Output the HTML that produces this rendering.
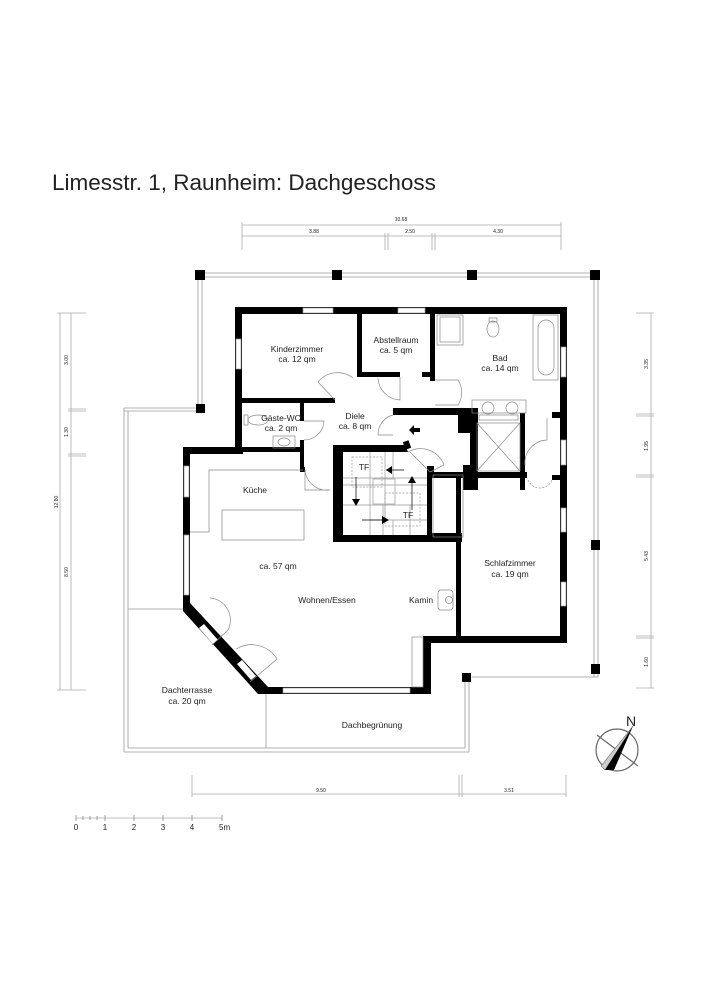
<!DOCTYPE html>
<html><head><meta charset="utf-8"><style>
html,body{margin:0;padding:0;background:#fff;}
svg{display:block;}
text{font-family:"Liberation Sans",Arial,sans-serif;fill:#222;}
</style></head><body>
<svg width="707" height="1000" viewBox="0 0 707 1000" xmlns="http://www.w3.org/2000/svg">
<text x="52" y="190" font-size="22.5">Limesstr. 1, Raunheim: Dachgeschoss</text>

<!-- dimension lines -->
<g stroke="#aaa" stroke-width="0.8" fill="none">
<line x1="242" y1="225" x2="561" y2="225"/>
<line x1="242" y1="236" x2="561" y2="236"/>
<line x1="242" y1="222" x2="242" y2="250"/><line x1="561" y1="222" x2="561" y2="250"/>
<line x1="385" y1="233" x2="385" y2="250"/><line x1="388" y1="233" x2="388" y2="250"/>
<line x1="432" y1="233" x2="432" y2="250"/><line x1="435" y1="233" x2="435" y2="250"/>
<line x1="60" y1="313" x2="60" y2="690"/><line x1="71" y1="313" x2="71" y2="690"/>
<line x1="57" y1="313" x2="86" y2="313"/><line x1="57" y1="690" x2="86" y2="690"/>
<line x1="68" y1="409" x2="86" y2="409"/><line x1="68" y1="411" x2="86" y2="411"/>
<line x1="68" y1="454" x2="86" y2="454"/><line x1="68" y1="456" x2="86" y2="456"/>
<line x1="651" y1="313" x2="651" y2="688"/>
<line x1="636" y1="313" x2="654" y2="313"/><line x1="636" y1="688" x2="654" y2="688"/>
<line x1="636" y1="414" x2="654" y2="414"/><line x1="636" y1="416" x2="654" y2="416"/>
<line x1="636" y1="475" x2="654" y2="475"/><line x1="636" y1="477" x2="654" y2="477"/>
<line x1="636" y1="636" x2="654" y2="636"/><line x1="636" y1="638" x2="654" y2="638"/>
<line x1="192" y1="794" x2="566" y2="794"/>
<line x1="192" y1="775" x2="192" y2="797"/><line x1="566" y1="775" x2="566" y2="797"/>
<line x1="459" y1="775" x2="459" y2="797"/><line x1="462" y1="775" x2="462" y2="797"/>
<line x1="76" y1="818" x2="222" y2="818"/>
</g>
<g font-size="5" fill="#555">
<text x="401" y="221" text-anchor="middle">10.68</text>
<text x="314" y="233" text-anchor="middle">3.88</text>
<text x="410" y="233" text-anchor="middle">2.50</text>
<text x="498" y="233" text-anchor="middle">4.30</text>
<text x="321" y="792" text-anchor="middle">9.50</text>
<text x="509" y="792" text-anchor="middle">3.51</text>
<text transform="translate(58,502) rotate(-90)" text-anchor="middle">12.80</text>
<text transform="translate(68,360) rotate(-90)" text-anchor="middle">3.00</text>
<text transform="translate(68,432) rotate(-90)" text-anchor="middle">1.30</text>
<text transform="translate(68,572) rotate(-90)" text-anchor="middle">8.50</text>
<text transform="translate(648,364) rotate(-90)" text-anchor="middle">3.35</text>
<text transform="translate(648,446) rotate(-90)" text-anchor="middle">1.95</text>
<text transform="translate(648,556) rotate(-90)" text-anchor="middle">5.43</text>
<text transform="translate(648,662) rotate(-90)" text-anchor="middle">1.60</text>
</g>
<g stroke="#888" stroke-width="0.8">
<line x1="76" y1="815" x2="76" y2="821"/><line x1="105" y1="815" x2="105" y2="821"/>
<line x1="134" y1="815" x2="134" y2="821"/><line x1="163" y1="815" x2="163" y2="821"/>
<line x1="192" y1="815" x2="192" y2="821"/><line x1="222" y1="815" x2="222" y2="821"/>
<line x1="83" y1="816" x2="83" y2="820"/><line x1="90" y1="816" x2="90" y2="820"/><line x1="97" y1="816" x2="97" y2="820"/>
</g>
<g font-size="8">
<text x="76" y="830" text-anchor="middle">0</text><text x="105" y="830" text-anchor="middle">1</text>
<text x="134" y="830" text-anchor="middle">2</text><text x="163" y="830" text-anchor="middle">3</text>
<text x="192" y="830" text-anchor="middle">4</text><text x="219" y="830">5m</text>
</g>

<!-- balcony railings -->
<g stroke="#999" stroke-width="0.8" fill="none">
<line x1="198" y1="273" x2="598" y2="273"/><line x1="198" y1="277" x2="598" y2="277"/>
<line x1="198" y1="273" x2="198" y2="408"/><line x1="202" y1="277" x2="202" y2="408"/>
<line x1="594" y1="273" x2="594" y2="677"/><line x1="598" y1="273" x2="598" y2="677"/>
<line x1="472" y1="677" x2="598" y2="677"/>
<line x1="465" y1="677" x2="465" y2="748"/><line x1="469" y1="677" x2="469" y2="752"/>
<line x1="124" y1="408" x2="198" y2="408"/><line x1="124" y1="411" x2="198" y2="411"/>
<line x1="124" y1="408" x2="124" y2="752"/><line x1="128" y1="411" x2="128" y2="748"/>
<line x1="124" y1="752" x2="469" y2="752"/><line x1="128" y1="748" x2="465" y2="748"/>
<line x1="128" y1="609" x2="186" y2="609"/>
<line x1="266" y1="694" x2="266" y2="748"/>
</g>
<g fill="#000">
<rect x="195" y="270" width="10" height="10"/><rect x="332" y="270" width="10" height="10"/>
<rect x="467" y="270" width="10" height="10"/><rect x="590" y="270" width="10" height="10"/>
<rect x="196" y="404" width="9" height="9"/>
<rect x="591" y="540" width="9" height="10"/><rect x="591" y="664" width="9" height="10"/>
<rect x="462" y="673" width="9" height="9"/>
</g>

<!-- walls -->
<g fill="#000">
<rect x="235" y="307" width="332" height="7"/>
<rect x="235" y="307" width="7" height="145"/>
<rect x="560" y="307" width="7" height="336"/>
<rect x="423" y="636" width="144" height="7"/>
<rect x="423" y="636" width="8" height="58"/>
<rect x="265" y="687" width="166" height="7"/>
<rect x="183" y="447" width="7" height="162"/>
<rect x="183" y="447" width="60" height="7"/>
<rect x="241" y="447" width="60" height="5"/>
<polygon points="183,605 190,603 268,687 265,694 258,694 183,611"/>
<rect x="241" y="398" width="94" height="5"/>
<rect x="357" y="313" width="5" height="64"/>
<rect x="357" y="372" width="43" height="5"/>
<rect x="422" y="372" width="13" height="5"/>
<rect x="430" y="313" width="5" height="68"/>
<rect x="300" y="403" width="4" height="18"/>
<rect x="300" y="440" width="4" height="32"/>
<rect x="300" y="467" width="5" height="5"/>
<rect x="393" y="408" width="82" height="7"/>
<rect x="458" y="408" width="17" height="25"/>
<rect x="470" y="408" width="8" height="70"/>
<rect x="520" y="413" width="5" height="77"/>
<rect x="552" y="412" width="15" height="6"/>
<rect x="430" y="472" width="97" height="6"/>
<rect x="463" y="465" width="15" height="25"/>
<rect x="552" y="475" width="15" height="5"/>
<rect x="456" y="478" width="5" height="162"/>
<!-- stair box -->
<polygon points="333,445 405,445 408,452 343,452 343,535 427,535 427,470 432,470 432,542 333,542"/>
<rect x="430" y="533" width="32" height="9"/>
<rect x="404" y="441" width="6" height="8" transform="rotate(-20 407 445)"/>
<rect x="427" y="466" width="7" height="7"/>
</g>
<!-- windows -->
<g fill="#fff" stroke="#999" stroke-width="0.7">
<rect x="303" y="308" width="30" height="5"/><rect x="398" y="308" width="27" height="5"/>
<rect x="236" y="339" width="5" height="30"/>
<rect x="561" y="347" width="5" height="30"/><rect x="561" y="440" width="5" height="25"/>
<rect x="561" y="508" width="5" height="24"/><rect x="561" y="582" width="5" height="24"/>
<rect x="184" y="466" width="5" height="31"/><rect x="184" y="535" width="5" height="60"/>
<rect x="283" y="688" width="127" height="5"/>
</g>
<g fill="#fff" stroke="none">
<polygon points="199,628 213,644 218,640 204,624"/>
<polygon points="237,664 251,680 256,676 242,660"/>
</g>
<g stroke="#888" stroke-width="0.7" fill="none">
<path d="M212,645 L228,630 A22,22 0 0 0 210,598"/>
<path d="M250,682 L277,659 A30,30 0 0 0 236,649"/>
<path d="M335,400 L318,382 A25,25 0 0 1 353,378"/>
<path d="M400,377 L400,400 A23,23 0 0 1 378,378"/>
<path d="M435,380 L458,380 A23,23 0 0 1 458,405 L435,405"/>
<path d="M304,421 L324,421 A20,20 0 0 1 304,440"/>
<path d="M305,470 L305,490 L330,490 M305,470 A22,22 0 0 0 330,490"/>
<path d="M393,415 A20,20 0 0 0 378,435 L393,435"/>
<path d="M410,452 L430,472 M408,452 A25,25 0 0 1 444,465 L430,472"/>
<path d="M525,465 A23,23 0 0 1 547,440 L547,418"/>
<path d="M528,480 A13,13 0 0 0 552,480" stroke-dasharray="2,1.5"/>
<rect x="433" y="475" width="30" height="62"/>
<rect x="412" y="637" width="11" height="50"/>
<path d="M190,532 L209,532 L209,470 L303,470"/>
<rect x="222" y="510" width="82" height="30"/>
<rect x="533" y="315" width="25" height="65"/>
<rect x="538" y="320" width="16" height="55" rx="8"/>
<rect x="437" y="315" width="26" height="30"/><rect x="440" y="317" width="20" height="25"/>
<ellipse cx="493" cy="329" rx="6" ry="8"/><rect x="489" y="318" width="8" height="4"/>
<rect x="472" y="400" width="54" height="13"/>
<circle cx="488" cy="408" r="6"/><circle cx="512" cy="408" r="6"/>
<rect x="477" y="423" width="43" height="48"/><line x1="477" y1="423" x2="520" y2="471"/><line x1="520" y1="423" x2="477" y2="471"/>
<rect x="479" y="415" width="39" height="5"/>
<ellipse cx="258" cy="420" rx="10" ry="5"/><rect x="244" y="415" width="4" height="10"/>
<rect x="273" y="436" width="22" height="12"/><ellipse cx="284" cy="442" rx="6" ry="4"/>
<rect x="438" y="590" width="15" height="20" rx="3"/><circle cx="449" cy="600" r="3.5"/>
<g stroke="#999">
<line x1="343" y1="478" x2="427" y2="478"/><line x1="343" y1="485" x2="427" y2="485"/>
<line x1="343" y1="505" x2="427" y2="505"/><line x1="370" y1="520" x2="427" y2="520"/>
<line x1="370" y1="452" x2="370" y2="535"/><line x1="385" y1="452" x2="385" y2="520"/>
<line x1="393" y1="452" x2="393" y2="478"/><line x1="383" y1="505" x2="383" y2="535"/>
<line x1="393" y1="520" x2="393" y2="535"/><line x1="410" y1="505" x2="410" y2="535"/>
<rect x="373" y="479" width="22" height="25"/>
</g>
<g stroke="#999" stroke-dasharray="2,1.5">
<rect x="352" y="457" width="30" height="30"/><rect x="385" y="493" width="35" height="33"/>
</g>
<path d="M356,477 L356,502 M386,470 L404,470 M362,520 L386,520 M412,510 L412,482" stroke="#000"/>
</g>
<g fill="#000">
<polygon points="352,499 360,499 356,506"/><polygon points="392,466 386,470 392,474"/>
<polygon points="382,516 389,520 382,524"/><polygon points="408,483 416,483 412,476"/>
<polygon points="414,425 409,430 414,435 414,432 420,432 420,428 414,428"/>
</g>
<g font-size="8.5" text-anchor="middle">
<text x="364" y="470">TF</text><text x="408" y="518">TF</text>
<text x="297" y="352">Kinderzimmer</text><text x="297" y="362">ca. 12 qm</text>
<text x="396" y="343">Abstellraum</text><text x="396" y="353">ca. 5 qm</text>
<text x="500" y="361">Bad</text><text x="500" y="371">ca. 14 qm</text>
<text x="281" y="421">Gäste-WC</text><text x="281" y="431">ca. 2 qm</text>
<text x="355" y="419">Diele</text><text x="355" y="429">ca. 8 qm</text>
<text x="255" y="493">Küche</text>
<text x="278" y="569">ca. 57 qm</text>
<text x="327" y="603">Wohnen/Essen</text>
<text x="421" y="603">Kamin</text>
<text x="510" y="566">Schlafzimmer</text><text x="510" y="577">ca. 19 qm</text>
<text x="187" y="693">Dachterrasse</text><text x="187" y="704">ca. 20 qm</text>
<text x="372" y="728">Dachbegrünung</text>
</g>
<g stroke="#666" stroke-width="1.2" fill="none">
<circle cx="617" cy="750" r="21"/>
<line x1="597" y1="735" x2="638" y2="766"/>
</g>
<polygon points="633,726 605,770 614,770" fill="#000"/>
<polygon points="633,726 601,766 605,770" fill="#ccc" stroke="#333" stroke-width="0.5"/>
<text x="626" y="726" font-size="14">N</text>
</svg>
</body></html>
